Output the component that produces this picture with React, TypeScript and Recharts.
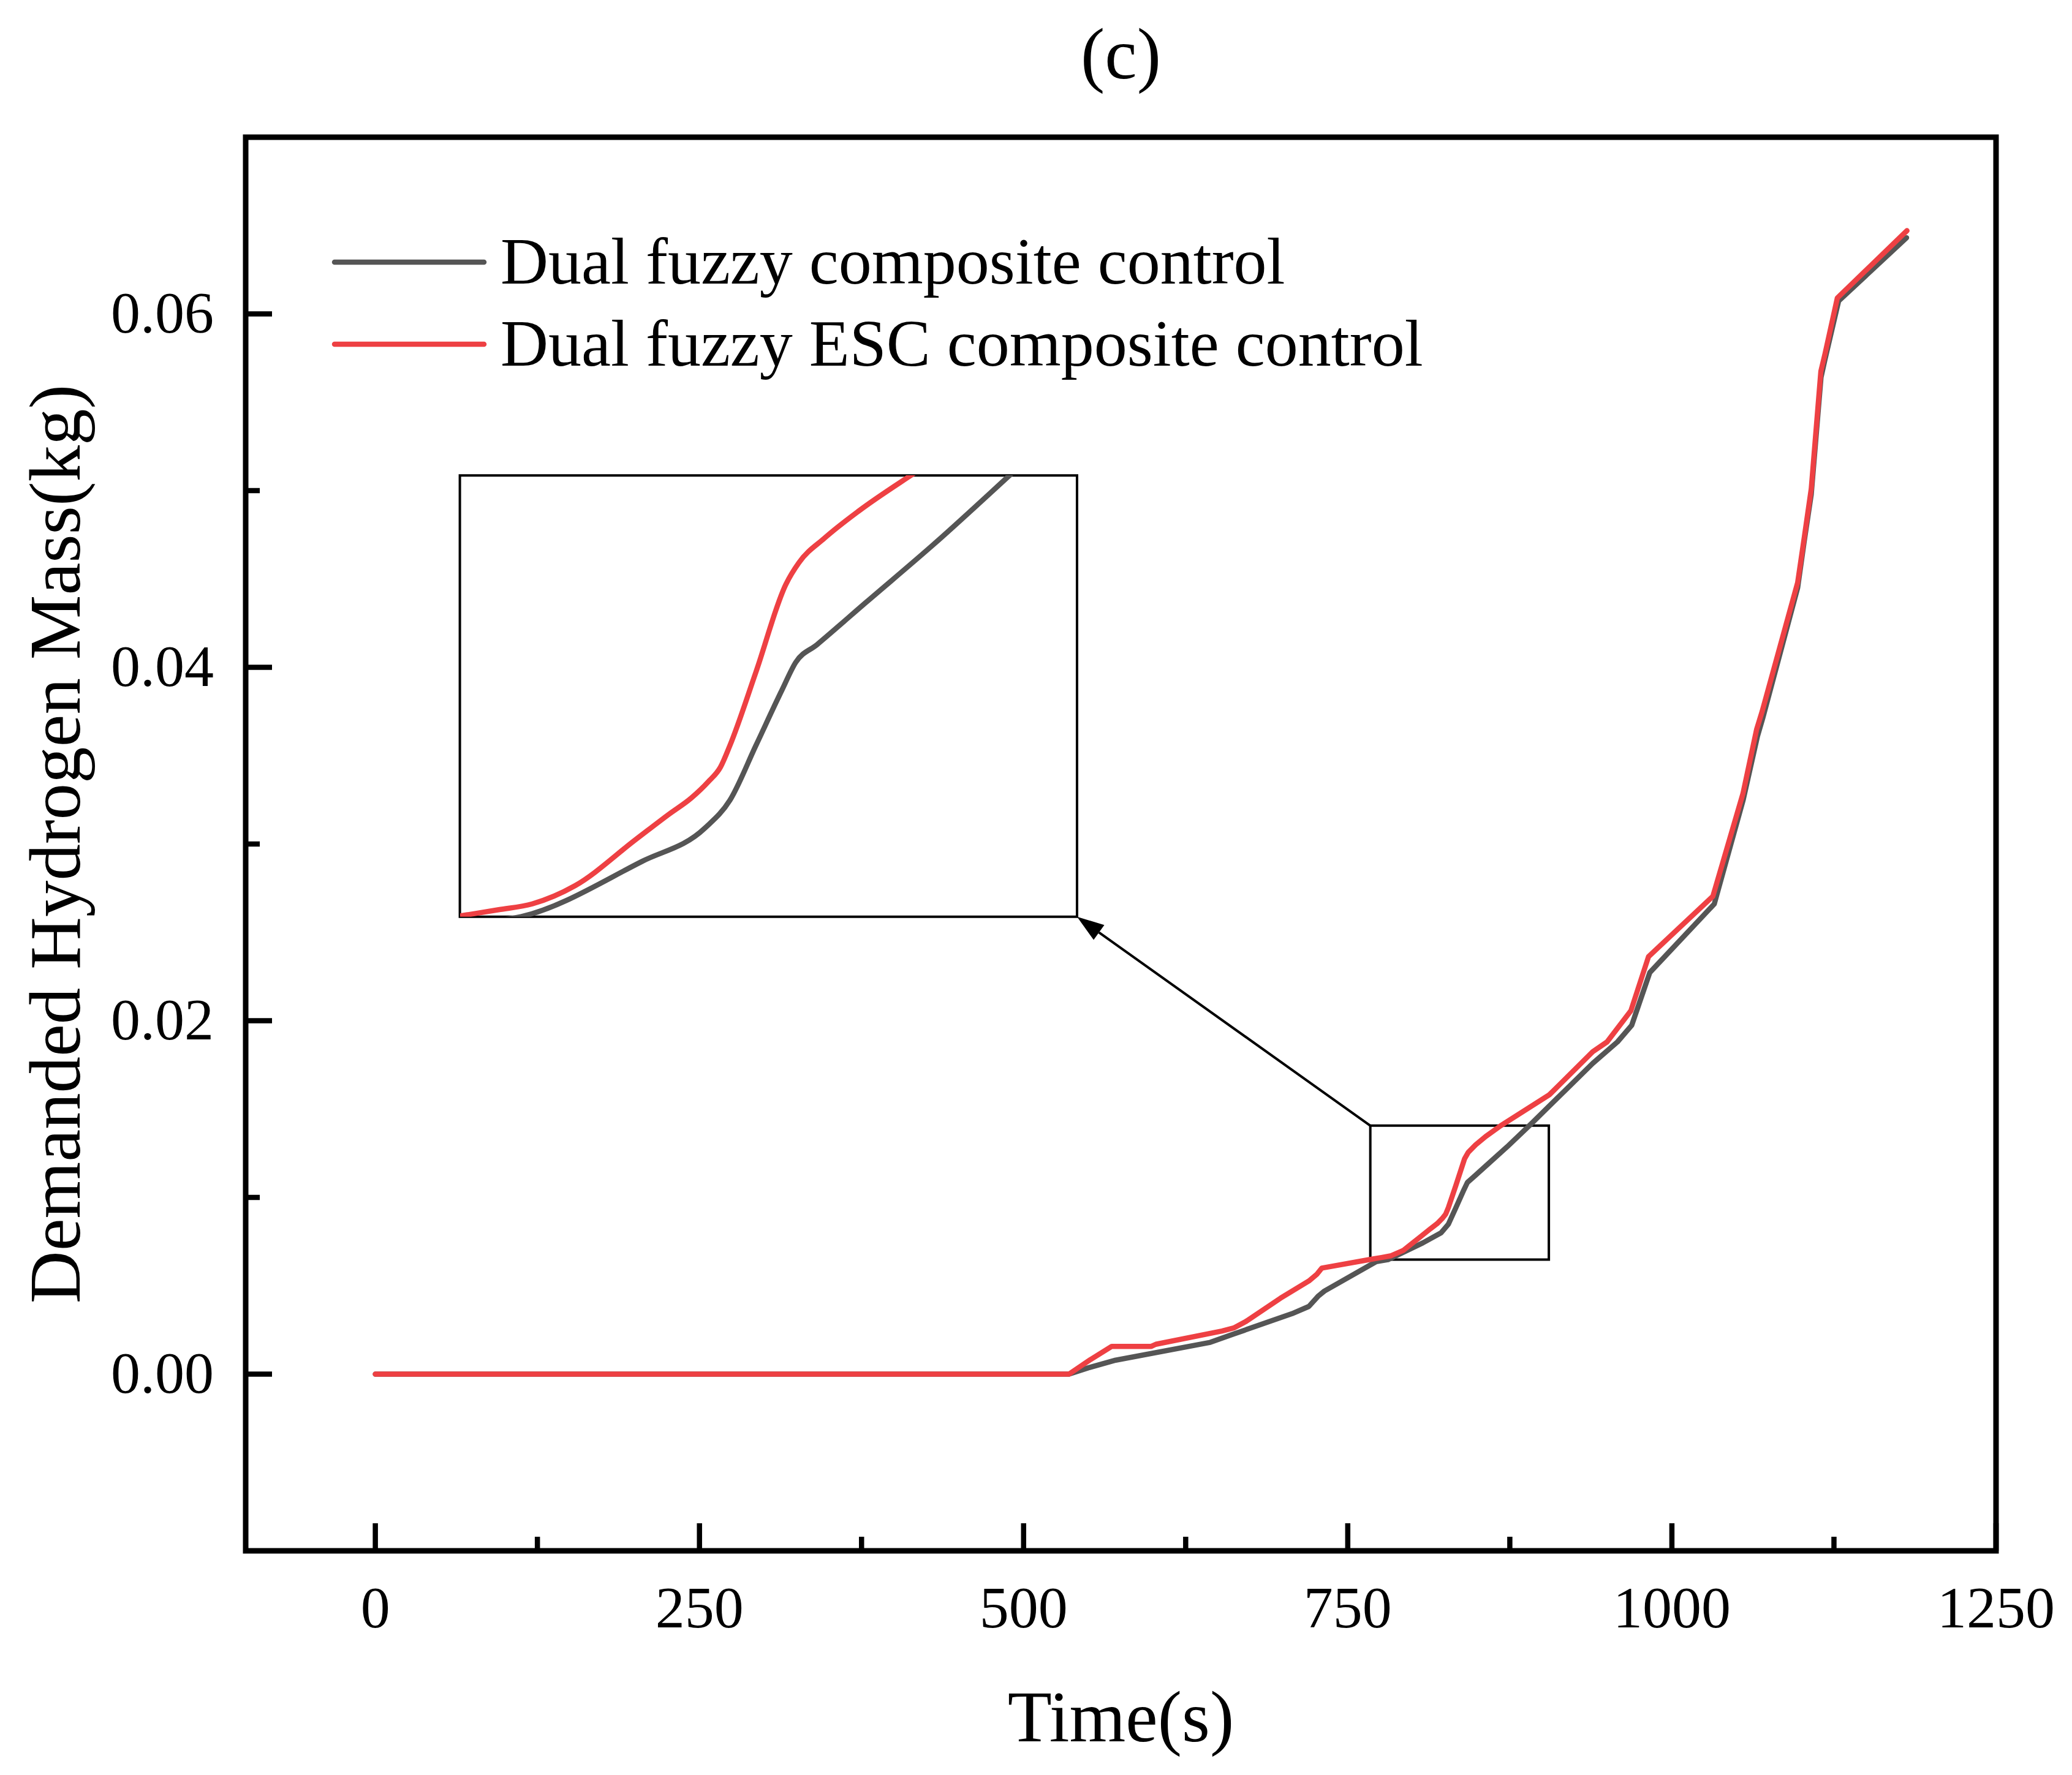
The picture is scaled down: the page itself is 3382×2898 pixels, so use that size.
import React from 'react';
import { LineChart, Line, XAxis, YAxis, ReferenceArea, ReferenceLine, Legend } from 'recharts';

// gray curve: Dual fuzzy composite control
const grayTime = [0, 535, 550, 571, 644, 662, 707, 720, 727, 732, 772, 781, 808, 822, 827.6, 833.4, 839.2, 842.3, 847, 858, 873, 890, 939, 958, 969, 983, 1032.7, 1055, 1066, 1070, 1097, 1102, 1107.5, 1115, 1118, 1128.6, 1181];
const grayMass = [0, 0, 0.00036, 0.00079, 0.0018, 0.00227, 0.00342, 0.00383, 0.0044, 0.0047, 0.00637, 0.00648, 0.00743, 0.008, 0.00848, 0.00942, 0.01037, 0.01085, 0.01115, 0.01188, 0.01287, 0.01406, 0.01759, 0.0188, 0.01974, 0.02273, 0.02661, 0.0325, 0.0361, 0.0371, 0.0445, 0.0471, 0.0498, 0.0564, 0.0574, 0.06073, 0.06431];

// red curve: Dual fuzzy ESC composite control
const redTime = [0, 535, 551.5, 568, 598.5, 602, 653, 662, 671, 698, 720, 726.3, 730, 768, 776, 783.5, 793, 806.5, 814, 819, 822.8, 825.5, 827.6, 833.4, 840.1, 843, 848.7, 856.4, 868, 905.5, 939, 950, 968.4, 982, 1031.6, 1054.8, 1065.4, 1069.6, 1097, 1102.3, 1107.5, 1114.9, 1118.1, 1127.6, 1181.3];
const redMass = [0, 0, 0.00082, 0.00157, 0.00157, 0.00169, 0.00244, 0.00261, 0.00296, 0.00429, 0.00527, 0.00566, 0.006, 0.0065, 0.0066, 0.0067, 0.00701, 0.0078, 0.00824, 0.00852, 0.0088, 0.00905, 0.00942, 0.01068, 0.01219, 0.01256, 0.01298, 0.01345, 0.01406, 0.01581, 0.01825, 0.0188, 0.02057, 0.02363, 0.02704, 0.03285, 0.0365, 0.0375, 0.0448, 0.04745, 0.05011, 0.05675, 0.05774, 0.0609, 0.06471];

const seriesNames = ['Dual fuzzy composite control', 'Dual fuzzy ESC composite control'];
const seriesColors = ['#555555', '#EE4043'];

const xTicks = [0, 125, 250, 375, 500, 625, 750, 875, 1000, 1125, 1250];
const xMajor = [0, 250, 500, 750, 1000, 1250];
const yTicks = [0, 0.01, 0.02, 0.03, 0.04, 0.05, 0.06];
const yMajor = [0, 0.02, 0.04, 0.06];

const xDomain = [-100, 1250];
const yDomain = [-0.01, 0.07];

// zoomed region and where its magnified copy sits (data units of the main chart)
const zoomTime = [767.4, 905.1];
const zoomMass = [0.00648, 0.01406];
const insetTime = [65.2, 541.2];
const insetMass = [0.02588, 0.05086];

const grayData = grayTime.map((t, i) => ({ time: t, mass: grayMass[i] }));
const redData = redTime.map((t, i) => ({ time: t, mass: redMass[i] }));

const W = 3382;
const H = 2898;
const PLOT = { left: 401, top: 224, right: 3258, bottom: 2532 };
const FONT = '"Liberation Serif", "Times New Roman", serif';

const toPxX = (x: number) => PLOT.left + ((x - xDomain[0]) / (xDomain[1] - xDomain[0])) * (PLOT.right - PLOT.left);
const toPxY = (y: number) => PLOT.top + ((yDomain[1] - y) / (yDomain[1] - yDomain[0])) * (PLOT.bottom - PLOT.top);

const XTick = ({ x, y, payload }: any) => {
  const major = xMajor.includes(payload.value);
  return (
    <g>
      <line x1={x} x2={x} y1={y} y2={y - (major ? 45 : 23)} stroke="#000" strokeWidth={8.5} />
      {major && (
        <text x={x} y={y + 125} textAnchor="middle" fontSize={96} fontFamily={FONT} fill="#000">
          {payload.value}
        </text>
      )}
    </g>
  );
};

const YTick = ({ x, y, payload }: any) => {
  const major = yMajor.includes(payload.value);
  return (
    <g>
      <line x1={x} x2={x + (major ? 43 : 23)} y1={y} y2={y} stroke="#000" strokeWidth={8.5} />
      {major && (
        <text x={x - 52} y={y + 30} textAnchor="end" fontSize={96} fontFamily={FONT} fill="#000">
          {payload.value.toFixed(2)}
        </text>
      )}
    </g>
  );
};

const renderTitle = (props: any) => {
  const vb = props.viewBox;
  return (
    <text x={vb.x + vb.width / 2} y={vb.y - 96} textAnchor="middle" fontSize={118} fontFamily={FONT} fill="#000">
      (c)
    </text>
  );
};

const renderXLabel = (props: any) => {
  const vb = props.viewBox;
  return (
    <text x={vb.x + vb.width / 2} y={vb.y + 311} textAnchor="middle" fontSize={118} fontFamily={FONT} fill="#000">
      Time(s)
    </text>
  );
};

const renderYLabel = (props: any) => {
  const vb = props.viewBox;
  const cx = vb.x + 130;
  const cy = vb.y + vb.height / 2;
  return (
    <text x={cx} y={cy} transform={`rotate(-90, ${cx}, ${cy})`} textAnchor="middle" fontSize={119} fontFamily={FONT} fill="#000">
      Demanded Hydrogen Mass(kg)
    </text>
  );
};

const renderLegend = (props: any) => {
  const items = [...(props.payload || [])].sort(
    (a: any, b: any) => seriesNames.indexOf(a.value) - seriesNames.indexOf(b.value)
  );
  return (
    <svg width={2600} height={700}>
      {items.map((entry: any, i: number) => {
        const ly = 428 + i * 134;
        return (
          <g key={`leg-${i}`}>
            <line x1={546} x2={790} y1={ly} y2={ly} stroke={entry.color} strokeWidth={8.5} strokeLinecap="round" />
            <text x={817} y={ly + 35} fontSize={108} fontFamily={FONT} fill="#000">
              {entry.value}
            </text>
          </g>
        );
      })}
    </svg>
  );
};

const ArrowShape = (p: any) => {
  const { x1, y1, x2, y2 } = p;
  const ang = Math.atan2(y2 - y1, x2 - x1);
  const len = 44;
  const half = 15;
  const bx = x2 - len * Math.cos(ang);
  const by = y2 - len * Math.sin(ang);
  const pts = [
    `${x2},${y2}`,
    `${bx + half * Math.sin(ang)},${by - half * Math.cos(ang)}`,
    `${bx - half * Math.sin(ang)},${by + half * Math.cos(ang)}`,
  ].join(' ');
  return (
    <g>
      <line x1={x1} y1={y1} x2={bx} y2={by} stroke="#000" strokeWidth={4} />
      <polygon points={pts} fill="#000" />
    </g>
  );
};

export default function App() {
  const insetLeft = toPxX(insetTime[0]);
  const insetTop = toPxY(insetMass[1]);
  const insetW = toPxX(insetTime[1]) - insetLeft;
  const insetH = toPxY(insetMass[0]) - insetTop;

  return (
    <div style={{ position: 'absolute', left: 0, top: 0, width: W, height: H, background: '#fff' }}>
      <LineChart width={W} height={H} margin={{ top: PLOT.top, right: W - PLOT.right, bottom: 0, left: 0 }}>
        <XAxis
          dataKey="time"
          type="number"
          domain={xDomain}
          ticks={xTicks}
          interval={0}
          axisLine={false}
          tickLine={false}
          tickSize={0}
          tickMargin={0}
          tick={(p: any) => <XTick {...p} />}
          height={H - PLOT.bottom}
          label={renderXLabel}
          allowDataOverflow
        />
        <YAxis
          type="number"
          domain={yDomain}
          ticks={yTicks}
          interval={0}
          axisLine={false}
          tickLine={false}
          tickSize={0}
          tickMargin={0}
          tick={(p: any) => <YTick {...p} />}
          width={PLOT.left}
          label={renderYLabel}
          allowDataOverflow
        />
        <ReferenceArea
          x1={xDomain[0]}
          x2={xDomain[1]}
          y1={yDomain[0]}
          y2={yDomain[1]}
          fill="none"
          fillOpacity={0}
          stroke="#000"
          strokeWidth={9}
          ifOverflow="visible"
          label={renderTitle}
        />
        <ReferenceArea
          x1={zoomTime[0]}
          x2={zoomTime[1]}
          y1={zoomMass[0]}
          y2={zoomMass[1]}
          fill="none"
          fillOpacity={0}
          stroke="#000"
          strokeWidth={4}
          ifOverflow="visible"
        />
        <ReferenceArea
          x1={insetTime[0]}
          x2={insetTime[1]}
          y1={insetMass[0]}
          y2={insetMass[1]}
          fill="none"
          fillOpacity={0}
          stroke="#000"
          strokeWidth={4}
          ifOverflow="visible"
        />
        <ReferenceLine
          segment={[
            { x: zoomTime[0], y: zoomMass[1] },
            { x: insetTime[1], y: insetMass[0] },
          ]}
          ifOverflow="visible"
          shape={ArrowShape}
        />
        <Line
          data={grayData}
          dataKey="mass"
          name={seriesNames[0]}
          type="linear"
          stroke={seriesColors[0]}
          strokeWidth={8.5}
          strokeLinejoin="round"
          strokeLinecap="round"
          dot={false}
          activeDot={false}
          isAnimationActive={false}
        />
        <Line
          data={redData}
          dataKey="mass"
          name={seriesNames[1]}
          type="linear"
          stroke={seriesColors[1]}
          strokeWidth={8.5}
          strokeLinejoin="round"
          strokeLinecap="round"
          dot={false}
          activeDot={false}
          isAnimationActive={false}
        />
        <Legend
          layout="vertical"
          align="center"
          verticalAlign="middle"
          content={renderLegend}
          wrapperStyle={{ left: 0, top: 0, width: 2600, height: 700 }}
        />
      </LineChart>

      <div style={{ position: 'absolute', left: insetLeft, top: insetTop, width: insetW, height: insetH, zIndex: 2 }}>
        <LineChart width={insetW} height={insetH} margin={{ top: 0, right: 0, bottom: 0, left: 0 }}>
          <XAxis dataKey="time" type="number" domain={zoomTime} hide allowDataOverflow />
          <YAxis type="number" domain={zoomMass} hide allowDataOverflow />
          <Line
            data={grayData}
            dataKey="mass"
            type="monotone"
            stroke={seriesColors[0]}
            strokeWidth={8.5}
            strokeLinejoin="round"
            dot={false}
            activeDot={false}
            isAnimationActive={false}
          />
          <Line
            data={redData}
            dataKey="mass"
            type="monotone"
            stroke={seriesColors[1]}
            strokeWidth={8.5}
            strokeLinejoin="round"
            dot={false}
            activeDot={false}
            isAnimationActive={false}
          />
        </LineChart>
      </div>
    </div>
  );
}
